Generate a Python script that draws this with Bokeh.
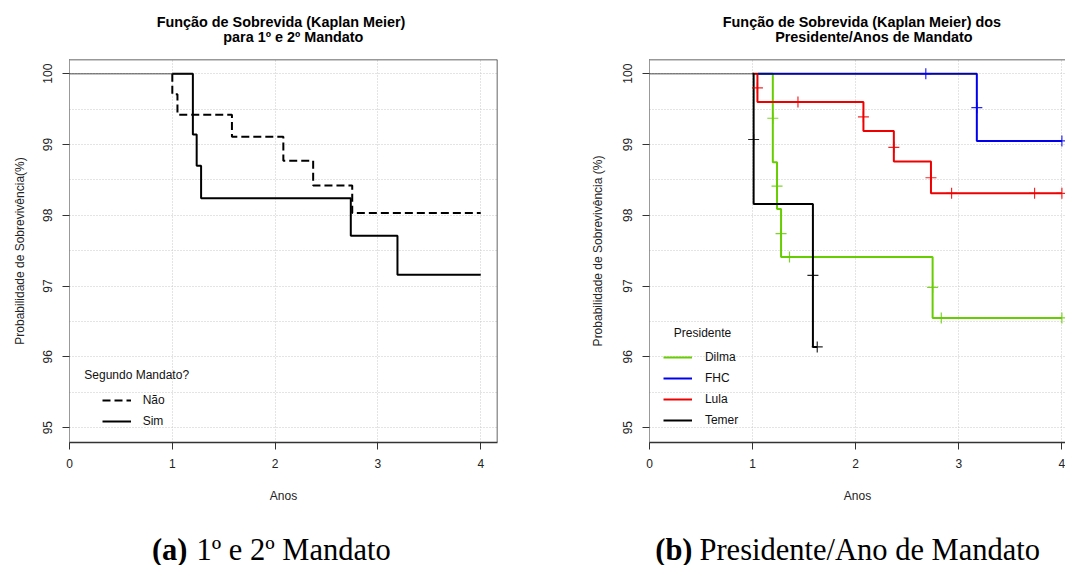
from bokeh.plotting import figure
from bokeh.layouts import row, column
from bokeh.models import Range1d, FixedTicker, Span, Label, Legend, LegendItem
from bokeh.embed import file_html
from bokeh.resources import INLINE

FONT = "Liberation Sans"
SERIF = "Liberation Serif"
GRID = "#C8C8C8"

# ---------------- data ----------------
x_ticks = [0, 1, 2, 3, 4]
y_ticks = [95, 96, 97, 98, 99, 100]
y_minor = [95.5, 96.5, 97.5, 98.5, 99.5]

# Panel (a): first / second term
nao_t = [1.0, 1.0, 1.05, 1.58, 2.08, 2.37, 2.75, 4.0]
nao_s = [100.0, 99.71, 99.42, 99.11, 98.77, 98.42, 98.03, 98.03]
sim_t = [1.0, 1.2, 1.237, 1.28, 2.736, 3.19, 4.0]
sim_s = [100.0, 99.14, 98.70, 98.24, 97.71, 97.16, 97.16]

# Panel (b): president
dilma_t = [1.05, 1.196, 1.237, 1.276, 2.746, 4.0]
dilma_s = [100.0, 98.75, 98.09, 97.41, 96.55, 96.55]
fhc_t = [1.05, 3.175, 4.0]
fhc_s = [100.0, 99.05, 99.05]
lula_t = [1.0, 1.047, 2.075, 2.37, 2.73, 4.0]
lula_s = [100.0, 99.60, 99.19, 98.76, 98.31, 98.31]
temer_t = [1.0, 1.01, 1.585, 1.627]
temer_s = [100.0, 98.16, 96.14, 96.14]

# censoring marks
dilma_ct = [1.196, 1.237, 1.276, 1.358, 2.746, 2.83, 4.0]
dilma_cs = [99.37, 98.41, 97.74, 97.41, 96.98, 96.55, 96.55]
fhc_ct = [2.68, 3.175, 4.0]
fhc_cs = [100.0, 99.52, 99.05]
lula_ct = [1.047, 1.44, 2.075, 2.37, 2.73, 2.93, 3.735, 4.0]
lula_cs = [99.80, 99.60, 99.39, 98.96, 98.53, 98.31, 98.31, 98.31]
temer_ct = [1.01, 1.585, 1.627]
temer_cs = [99.07, 97.15, 96.14]

presidents = ["Dilma", "FHC", "Lula", "Temer"]
pres_colors = ["#66CD00", "#0000EE", "#EE0000", "#000000"]

title_a = ["Função de Sobrevida (Kaplan Meier)", "para 1º e 2º Mandato"]
title_b = ["Função de Sobrevida (Kaplan Meier) dos", "Presidente/Anos de Mandato"]
caption_a = ["(a)", "1º e 2º Mandato"]
caption_b = ["(b)", "Presidente/Ano de Mandato"]


def first_drop(t, s):
    for ti, si in zip(t, s):
        if si < 100:
            return ti
    return t[-1]


def blank(width, height):
    f = figure(width=width, height=height, x_range=Range1d(0, 1), y_range=Range1d(0, 1),
               min_border=0, toolbar_location=None, output_backend="svg",
               x_axis_location=None, y_axis_location=None, outline_line_color=None,
               background_fill_color="white", border_fill_color="white")
    f.xgrid.visible = False
    f.ygrid.visible = False
    return f


def style(p, ylabel, ylab_standoff):
    p.xaxis.ticker = FixedTicker(ticks=x_ticks)
    p.yaxis.ticker = FixedTicker(ticks=y_ticks, minor_ticks=y_minor)
    p.xaxis.axis_label = "Anos"
    p.yaxis.axis_label = ylabel
    for ax in (p.xaxis[0], p.yaxis[0]):
        ax.major_tick_out = 7
        ax.major_tick_in = 0
        ax.minor_tick_line_color = None
        ax.major_tick_line_color = "#333333"
        ax.major_label_text_font = FONT
        ax.major_label_text_font_size = "12px"
        ax.major_label_text_color = "#222222"
        ax.axis_label_text_font = FONT
        ax.axis_label_text_font_size = "12px"
        ax.axis_label_text_font_style = "normal"
        ax.axis_label_text_color = "#222222"
    p.xaxis.axis_line_color = "#333333"
    p.xaxis.axis_line_width = 1.5
    p.xaxis.major_label_standoff = 9
    p.xaxis.axis_label_standoff = 18
    p.yaxis.axis_line_color = "#333333"
    p.yaxis.axis_line_dash = "1 1"
    p.yaxis.major_label_orientation = "vertical"
    p.yaxis.major_label_standoff = 10
    p.yaxis.axis_label_standoff = ylab_standoff
    for g in (p.xgrid[0], p.ygrid[0]):
        g.grid_line_color = GRID
        g.grid_line_dash = "1 2"
    p.ygrid.minor_grid_line_color = GRID
    p.ygrid.minor_grid_line_dash = "1 2"
    p.add_layout(Span(location=p.y_range.end, dimension="width",
                      line_color="#333333", line_width=1.5))


# ---------------- title strip ----------------
tf = blank(1065, 50)
for lines, xs in ((title_a, (280.5, 292.8)), (title_b, (861.4, 873.4))):
    for txt, x, y in zip(lines, xs, (29, 13.3)):
        tf.add_layout(Label(x=x, y=y, x_units="screen", y_units="screen", text=txt,
                            text_font=FONT, text_font_size="14.4px", text_font_style="bold",
                            text_color="#000000", text_align="center", text_baseline="middle"))

# ---------------- panel (a) ----------------
pa = figure(width=540, height=470, x_range=Range1d(0, 4.163), y_range=Range1d(94.79, 100.2),
            min_border_left=69, min_border_right=43, min_border_top=9, min_border_bottom=78,
            toolbar_location=None, output_backend="svg", outline_line_color=None,
            background_fill_color="white", border_fill_color="white")
style(pa, "Probabilidade de Sobrevivência(%)", 14)
pa.add_layout(Span(location=pa.x_range.end, dimension="height", line_color="#333333", line_width=1.5))

r_nao = pa.step(nao_t, nao_s, mode="after", line_color="black", line_width=2, line_dash="8 4")
r_sim = pa.step(sim_t, sim_s, mode="after", line_color="black", line_width=2)
end_a = max(first_drop(nao_t, nao_s), first_drop(sim_t, sim_s))
pa.line([0, end_a], [100, 100], line_color="#111111", line_width=1.5, line_dash="1 1")

leg_a = Legend(items=[LegendItem(label="Não", renderers=[r_nao]),
                      LegendItem(label="Sim", renderers=[r_sim])],
               location=(32.7, 11.3), padding=0, margin=0, spacing=1,
               glyph_width=29, glyph_height=20, label_height=20, label_standoff=12,
               label_text_font=FONT, label_text_font_size="12px", label_text_color="#111111",
               border_line_color=None, background_fill_alpha=0)
pa.add_layout(leg_a)
pa.add_layout(Label(x=14.8, y=68, x_units="screen", y_units="screen", text="Segundo Mandato?",
                    text_font=FONT, text_font_size="12px", text_color="#111111",
                    text_align="left", text_baseline="middle"))

# ---------------- panel (b) ----------------
pb = figure(width=525, height=470, x_range=Range1d(0, 4.035), y_range=Range1d(94.79, 100.2),
            min_border_left=109, min_border_right=0, min_border_top=9, min_border_bottom=78,
            toolbar_location=None, output_backend="svg", outline_line_color=None,
            background_fill_color="white", border_fill_color="white")
style(pb, "Probabilidade de Sobrevivência (%)", 16)

curves = [(dilma_t, dilma_s), (fhc_t, fhc_s), (lula_t, lula_s), (temer_t, temer_s)]
marks = [(dilma_ct, dilma_cs), (fhc_ct, fhc_cs), (lula_ct, lula_cs), (temer_ct, temer_cs)]
items = []
for name, col, (t, s) in zip(presidents, pres_colors, curves):
    r = pb.step(t, s, mode="after", line_color=col, line_width=2)
    items.append(LegendItem(label=name, renderers=[r]))
end_b = max(first_drop(t, s) for t, s in curves)
pb.line([0, end_b], [100, 100], line_color="#111111", line_width=1.5, line_dash="1 1")
for col, (ct, cs) in zip(pres_colors, marks):
    pb.scatter(ct, cs, marker="cross", size=11, line_color=col, line_width=1.2, line_alpha=0.85)

leg_b = Legend(items=items, location=(13.9, 11.7), padding=0, margin=0, spacing=1,
               glyph_width=29, glyph_height=20, label_height=20, label_standoff=13,
               label_text_font=FONT, label_text_font_size="12px", label_text_color="#111111",
               border_line_color=None, background_fill_alpha=0)
pb.add_layout(leg_b)
pb.add_layout(Label(x=53, y=109.7, x_units="screen", y_units="screen", text="Presidente",
                    text_font=FONT, text_font_size="12px", text_color="#111111",
                    text_align="center", text_baseline="middle"))

# ---------------- caption strip ----------------
cf = blank(1065, 45)
for (tag, rest), xr, xl in ((caption_a, 187, 196), (caption_b, 692, 699)):
    cf.add_layout(Label(x=xr, y=16, x_units="screen", y_units="screen", text=tag,
                        text_font=SERIF, text_font_size="30.5px", text_font_style="bold",
                        text_color="#000000", text_align="right", text_baseline="alphabetic"))
    cf.add_layout(Label(x=xl, y=16, x_units="screen", y_units="screen", text=rest,
                        text_font=SERIF, text_font_size="30.5px",
                        text_color="#000000", text_align="left", text_baseline="alphabetic"))

layout = column(tf, row(pa, pb), cf)
open("out.html", "w").write(file_html(layout, INLINE))
